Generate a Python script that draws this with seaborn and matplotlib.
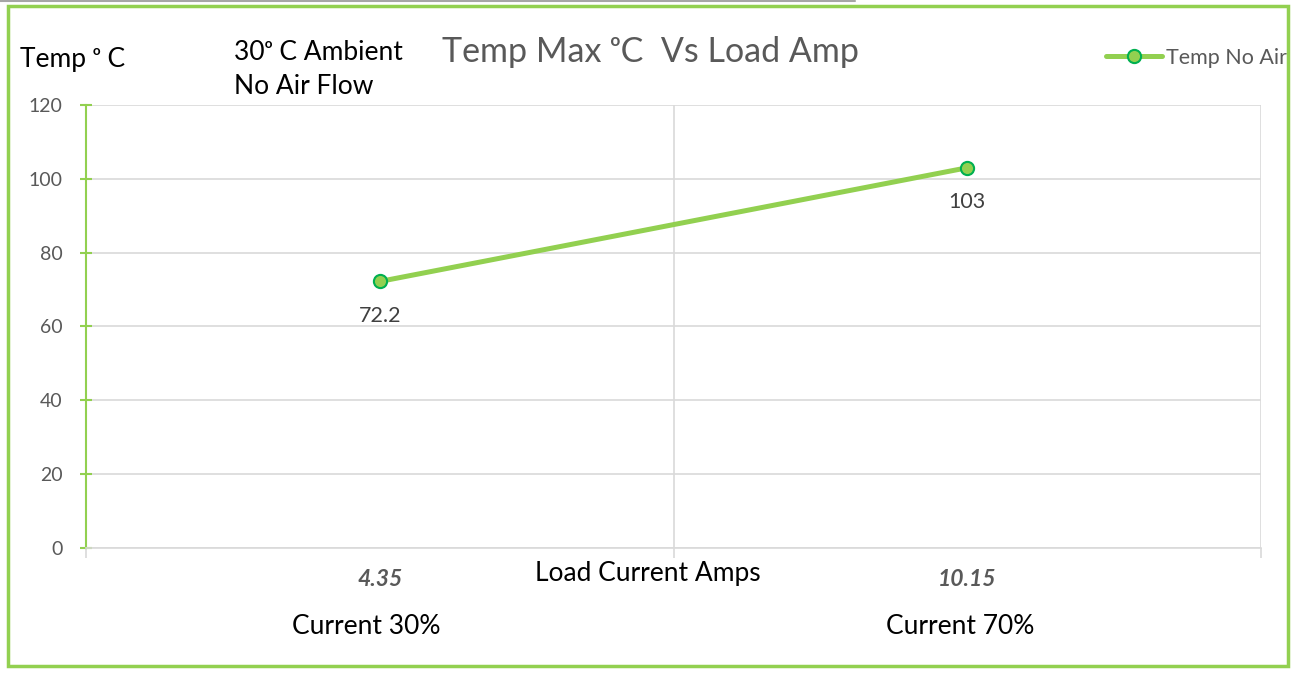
import matplotlib
matplotlib.use("Agg")
import matplotlib.pyplot as plt
import seaborn as sns
import pandas as pd
from matplotlib.patches import Rectangle
from matplotlib.lines import Line2D
from matplotlib.ticker import FixedLocator

# ---- data ----
amps = ["4.35", "10.15"]
current_pct = ["Current 30%", "Current 70%"]
temp_no_air = [72.2, 103]
y_ticks = [0, 20, 40, 60, 80, 100, 120]

GREEN = "#92D050"
DGREEN = "#00B050"
GRAY = "#595959"
GRID = "#D9D9D9"

sns.set_theme(style="white")
plt.rcParams["font.family"] = ["Lato", "DejaVu Sans"]

df = pd.DataFrame({"amps": amps, "temp": temp_no_air})

fig = plt.figure(figsize=(12.94, 6.78), dpi=100)
W, H = 1294, 678
ax = fig.add_axes([86 / W, 1 - 548 / H, (1261 - 86) / W, (548 - 105) / H])

sns.lineplot(data=df, x="amps", y="temp", ax=ax, color=GREEN, linewidth=3.6,
             marker="o", markersize=9.5, markerfacecolor=GREEN,
             markeredgecolor=DGREEN, markeredgewidth=1.5, label="Temp No Air",
             sort=False, zorder=5)

ax.set_xlim(-0.5, 1.5)
ax.set_ylim(0, 120)
ax.set_yticks(y_ticks)
ax.xaxis.set_minor_locator(FixedLocator([-0.5, 0.5, 1.5]))
ax.grid(False)
ax.grid(True, axis="y", which="major", color=GRID, linewidth=1.2)
ax.grid(True, axis="x", which="minor", color=GRID, linewidth=1.2)
ax.set_axisbelow(True)

for s in ["top", "right"]:
    ax.spines[s].set_visible(False)
ax.spines["left"].set_color(GREEN)
ax.spines["left"].set_linewidth(1.5)
ax.spines["bottom"].set_color(GRID)
ax.spines["bottom"].set_linewidth(1.2)

ax.tick_params(axis="y", which="major", direction="inout", length=8, width=1.5,
               color=GREEN, labelsize=14, labelcolor=GRAY, pad=13, left=True)
ax.tick_params(axis="x", which="major", length=0, pad=15, labelsize=16.5,
               labelcolor=GRAY)
ax.tick_params(axis="x", which="minor", direction="out", length=7, width=1.2,
               color=GRID, bottom=True)
for lab in ax.get_xticklabels():
    lab.set_fontweight("bold")
    lab.set_fontstyle("italic")

ax.set_ylabel("")
ax.set_xlabel("Load Current Amps", fontsize=19, color="black")
ax.xaxis.set_label_coords(0.478, -0.03)

# second row of category labels (text boxes slightly left of category centre)
for i, (txt, dx) in enumerate(zip(current_pct, [-14, -7])):
    ax.annotate(txt, xy=(i, -0.178), xycoords=("data", "axes fraction"),
                xytext=(dx * 0.72, 0), textcoords="offset points",
                ha="center", va="center", fontsize=19, color="black")

# data labels
for i, v in enumerate(temp_no_air):
    ax.annotate(f"{v:g}", xy=(i, v), xytext=(0, -25), textcoords="offset points",
                ha="center", va="center", fontsize=15.5, color="#404040")

# legend
leg = ax.legend(loc="center left", bbox_to_anchor=(1106 / W, 1 - 58 / H),
                bbox_transform=fig.transFigure, frameon=False, fontsize=15.5,
                handlelength=2.6, handletextpad=0.2, borderaxespad=0, borderpad=0)
for t in leg.get_texts():
    t.set_color(GRAY)

# titles and annotations
fig.text(650 / W, 1 - 52 / H, "Temp Max ᵒC  Vs Load Amp", ha="center", va="center",
         fontsize=24.5, color=GRAY)
fig.text(20 / W, 1 - 60 / H, "Temp ᵒ C", ha="left", va="center", fontsize=19,
         color="black")
fig.text(234 / W, 1 - 52 / H, "30ᵒ C Ambient", ha="left", va="center", fontsize=19,
         color="black")
fig.text(234 / W, 1 - 87 / H, "No Air Flow", ha="left", va="center", fontsize=19,
         color="black")

# frame
fig.patches.append(Rectangle((8 / W, 1 - 666 / H), (1288 - 8) / W, (666 - 6) / H,
                             transform=fig.transFigure, fill=False,
                             edgecolor=GREEN, linewidth=2.5, zorder=10))
fig.lines.append(Line2D([0, 855 / W], [1 - 1 / H, 1 - 1 / H],
                        transform=fig.transFigure, color="#A6A6A6", linewidth=1.5))

fig.savefig("out.png", dpi=100)
